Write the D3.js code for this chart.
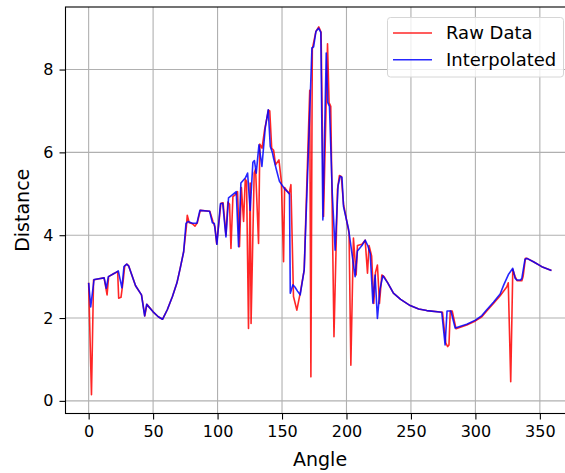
<!DOCTYPE html>
<html>
<head>
<meta charset="utf-8">
<script src="https://cdn.jsdelivr.net/npm/d3@7"></script>
<style>
  body { margin: 0; background: #fff; }
  text { font-family: 'DejaVu Sans', sans-serif; fill: #000; }
</style>
</head>
<body>
<script>
// raw scan, [angle, distance]
const rawData = [
  [0, 2.85], [2.2, 0.15], [3.8, 2.92], [8, 2.95], [12, 2.97], [14.3, 2.56], [15.5, 3.0],
  [20, 3.08], [22.5, 3.12], [23.3, 2.48], [25.1, 2.5], [26.8, 2.9], [28, 3.26], [29.8, 3.3],
  [31, 3.26], [36.4, 2.78], [41, 2.56], [43.6, 2.05], [45.2, 2.33], [50, 2.15], [54, 2.03],
  [57.3, 1.97], [61, 2.2], [65, 2.52], [68.5, 2.85], [71, 3.2], [73.7, 3.6], [75.8, 4.2],
  [76.5, 4.48], [78, 4.3], [80.4, 4.28], [82.5, 4.22], [84.3, 4.3], [86.6, 4.6], [94, 4.58],
  [96.4, 4.33], [98, 4.2], [99.3, 3.79], [102.6, 4.77], [104.3, 4.78], [106.5, 4.0], [108, 4.8],
  [109.3, 4.75], [110.4, 3.68], [111.9, 4.93], [114.5, 5.0], [115.5, 5.05], [117, 3.72],
  [118.5, 5.15], [120.2, 4.33], [121.5, 5.35], [122.5, 5.3], [124, 1.75], [125.3, 5.26],
  [126, 1.87], [128.4, 5.5], [129.5, 5.6], [131.8, 3.8], [132.8, 6.2], [134.5, 6.1],
  [136.5, 6.55], [139.5, 7.02], [140.5, 7.0], [142, 6.1], [143.5, 6.05], [145, 5.7],
  [147.6, 5.82], [149.5, 5.3], [151.2, 3.36], [152, 5.15], [155.5, 5.0], [156.9, 5.22],
  [158.9, 2.52], [161.5, 2.19], [164.1, 2.6], [167.2, 3.16], [170, 6.0], [171.5, 7.5],
  [172.4, 0.58], [173.5, 8.5], [176.3, 8.92], [178.5, 9.03], [180.3, 8.9], [182.2, 4.45],
  [185.3, 8.62], [186.5, 7.2], [187.8, 7.11], [190.3, 1.55], [193, 5.1], [194.5, 5.44],
  [196, 5.42], [197.7, 4.75], [202, 4.05], [203.4, 0.86], [205.4, 3.93], [207.5, 3.04],
  [208.5, 3.75], [212, 3.78], [214.5, 3.88], [216.3, 3.08], [217.5, 3.75], [219.5, 3.5],
  [221.2, 2.35], [222.5, 3.1], [224, 3.28], [225.6, 2.35], [227.4, 3.04], [229.2, 3.0],
  [232, 2.85], [236.4, 2.6], [242, 2.45], [249.4, 2.3], [256, 2.22], [262.3, 2.18],
  [274.5, 2.14], [277, 1.4], [278.5, 1.31], [279.5, 1.35], [280.5, 2.17], [282, 2.17],
  [285, 1.74], [293.3, 1.83], [300, 1.93], [305, 2.03], [308.8, 2.17], [314, 2.35],
  [319.2, 2.54], [324.3, 2.75], [325.5, 2.85], [327.4, 0.46], [329, 3.17], [330.8, 3.0],
  [332.5, 2.9], [336, 2.9], [337, 3.0], [338.8, 3.44], [340, 3.44], [345, 3.36],
  [351.5, 3.24], [359, 3.15]
];

// cleaned curve, [angle, distance]
const interpData = [
  [0, 2.85], [1.6, 2.27], [4.2, 2.93], [8, 2.95], [12, 2.97], [13.7, 2.72], [15.3, 3.0],
  [20, 3.08], [23, 3.14], [25.8, 2.73], [27.4, 3.24], [29.5, 3.3], [31, 3.26], [36.4, 2.78],
  [41, 2.56], [43.4, 2.05], [45, 2.33], [50, 2.15], [54, 2.03], [57.3, 1.97], [61, 2.2],
  [65, 2.52], [68.5, 2.85], [71, 3.2], [73.7, 3.6], [75.5, 4.28], [77, 4.33], [80.4, 4.29],
  [84, 4.29], [86.3, 4.6], [93.8, 4.58], [96, 4.3], [97.5, 4.28], [99.5, 3.78], [102.2, 4.76],
  [104, 4.77], [106.5, 3.96], [108.5, 4.9], [110.5, 4.95], [114.5, 5.05], [116.3, 3.72],
  [118.1, 5.26], [121.5, 5.38], [123.3, 5.5], [125.3, 4.6], [127.4, 5.76], [128.6, 5.8],
  [130, 5.5], [132.1, 6.18], [134.4, 5.66], [137, 6.59], [139.3, 7.03], [140.9, 6.14],
  [142.5, 6.0], [143.5, 5.85], [145.5, 5.6], [148, 5.3], [152, 5.12], [155.8, 5.0],
  [156.4, 2.6], [158.4, 2.8], [160, 2.75], [162, 2.65], [164.1, 2.56], [167.2, 3.16],
  [170.5, 6.06], [173.2, 8.52], [174.5, 8.55], [176.3, 8.92], [178.3, 9.0], [180.1, 8.9],
  [181.7, 4.37], [184.3, 8.4], [185.5, 7.2], [186.8, 7.11], [189, 5.0], [191.2, 3.64],
  [193.5, 5.2], [195.1, 5.42], [196.5, 5.4], [197.7, 4.69], [201.6, 4.15], [204.5, 3.5],
  [206.7, 3.0], [208.5, 3.62], [212, 3.75], [214.5, 3.88], [216.5, 3.75], [218.4, 3.56],
  [220.5, 2.36], [222.2, 3.04], [224, 1.99], [226, 2.7], [228.2, 3.02], [232, 2.85],
  [236.4, 2.6], [242, 2.45], [249.4, 2.3], [256, 2.22], [262.3, 2.18], [273.9, 2.14],
  [276.5, 1.35], [278, 2.17], [281, 2.17], [284.3, 1.76], [293.3, 1.85], [300, 1.95],
  [305, 2.06], [308.8, 2.2], [314, 2.38], [319.2, 2.58], [322, 2.8], [325.6, 3.05],
  [329, 3.2], [330.8, 2.96], [332, 2.92], [335, 2.92], [336, 2.95], [338.5, 3.42],
  [340, 3.44], [345, 3.36], [351.5, 3.24], [359, 3.15]
];

const xTicks = [0, 50, 100, 150, 200, 250, 300, 350];
const yTicks = [0, 2, 4, 6, 8];
const seriesNames = ['Raw Data', 'Interpolated'];
const seriesColors = ['#ff0000', '#0000ff'];

const width = 565, height = 473;
const plotLeft = 65.5, plotRight = 574.6, plotTop = 7, plotBottom = 413.5;

let svg = d3.select('body').append('svg')
  .attr('width', width).attr('height', height);

// SCALES (matplotlib style 5% margins)
let x = d3.scaleLinear().domain([-17.95, 376.95]).range([plotLeft, plotRight]);
let y = d3.scaleLinear().domain([-0.305, 9.51]).range([plotBottom, plotTop]);

// GRID
let grid = svg.append('g');
grid.selectAll('.gx').data(xTicks).join('line')
  .attr('x1', d => x(d)).attr('x2', d => x(d))
  .attr('y1', plotTop).attr('y2', plotBottom)
  .attr('stroke', '#b0b0b0').attr('stroke-width', 1.1);
grid.selectAll('.gy').data(yTicks).join('line')
  .attr('x1', plotLeft).attr('x2', plotRight)
  .attr('y1', d => y(d)).attr('y2', d => y(d))
  .attr('stroke', '#b0b0b0').attr('stroke-width', 1.1);

// LINES
svg.append('clipPath').attr('id', 'clip').append('rect')
  .attr('x', plotLeft).attr('y', plotTop)
  .attr('width', plotRight - plotLeft).attr('height', plotBottom - plotTop);

let line = d3.line().x(d => x(d[0])).y(d => y(d[1]));
let plot = svg.append('g').attr('clip-path', 'url(#clip)');
[rawData, interpData].forEach((data, i) => {
  plot.append('path')
    .datum(data)
    .attr('d', line)
    .attr('fill', 'none')
    .attr('stroke', seriesColors[i])
    .attr('stroke-opacity', 0.85)
    .attr('stroke-width', 1.6)
    .attr('stroke-linejoin', 'round');
});

// AXES
let xAxis = d3.axisBottom(x).tickValues(xTicks).tickSize(6).tickPadding(6).tickSizeOuter(0);
let yAxis = d3.axisLeft(y).tickValues(yTicks).tickSize(6).tickPadding(6).tickSizeOuter(0);

let gx = svg.append('g').attr('transform', `translate(0,${plotBottom})`).call(xAxis);
let gy = svg.append('g').attr('transform', `translate(${plotLeft},0)`).call(yAxis);
[gx, gy].forEach(g => {
  g.select('.domain').remove();
  g.selectAll('line').attr('stroke', '#000').attr('stroke-width', 1.1);
  g.selectAll('text').style('font-size', '16px').style('font-family', 'DejaVu Sans');
});

// SPINES
svg.append('rect')
  .attr('x', plotLeft).attr('y', plotTop)
  .attr('width', plotRight - plotLeft).attr('height', plotBottom - plotTop)
  .attr('fill', 'none').attr('stroke', '#000').attr('stroke-width', 1.1);

// LABELS
svg.append('text')
  .attr('x', (plotLeft + plotRight) / 2).attr('y', 465.5)
  .attr('text-anchor', 'middle').style('font-size', '19px')
  .text('Angle');
svg.append('text')
  .attr('transform', `translate(29,${(plotTop + plotBottom) / 2}) rotate(-90)`)
  .attr('text-anchor', 'middle').style('font-size', '19px')
  .text('Distance');

// LEGEND
let legend = svg.append('g');
legend.append('rect')
  .attr('x', 387.5).attr('y', 17.5).attr('width', 176).attr('height', 59.5)
  .attr('rx', 3).attr('fill', '#fff').attr('fill-opacity', 0.8)
  .attr('stroke', '#d6d6d6').attr('stroke-width', 1);
seriesNames.forEach((name, i) => {
  let ly = 33 + i * 26.7;
  legend.append('line')
    .attr('x1', 393).attr('x2', 432).attr('y1', ly).attr('y2', ly)
    .attr('stroke', seriesColors[i]).attr('stroke-opacity', 0.85).attr('stroke-width', 1.6);
  legend.append('text')
    .attr('x', 446).attr('y', ly + 6.4)
    .style('font-size', '18px')
    .text(name);
});
</script>
</body>
</html>
